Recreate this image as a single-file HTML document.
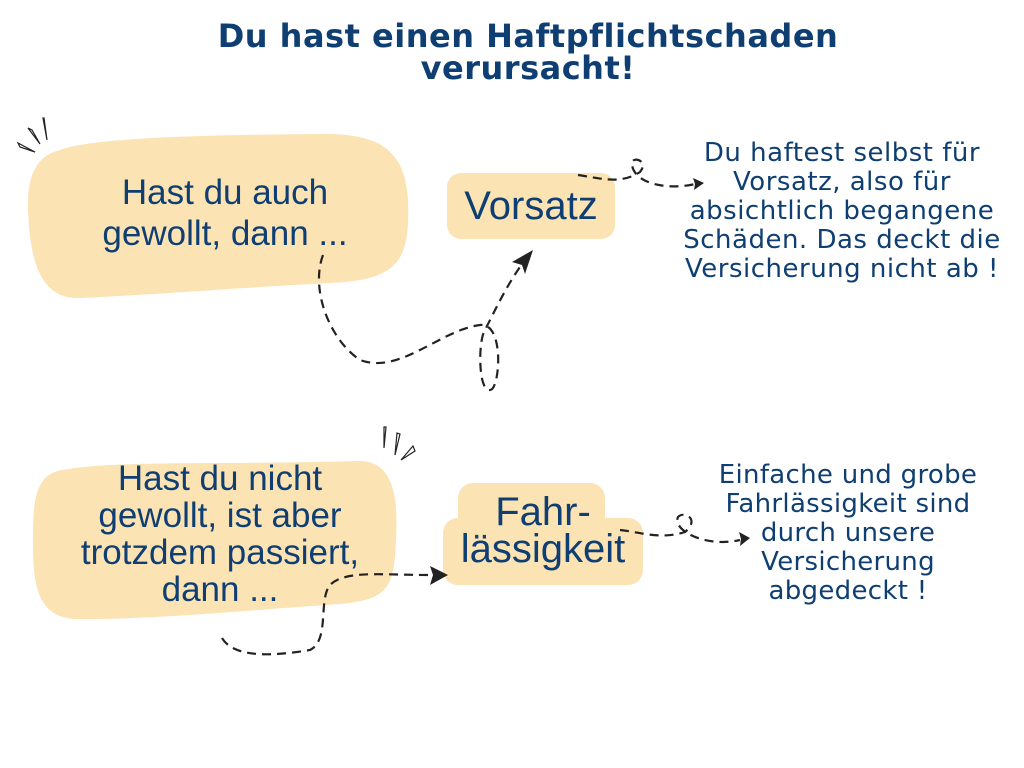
<!DOCTYPE html>
<html><head><meta charset="utf-8"><style>
body{margin:0;width:1024px;height:768px;background:#fff;position:relative;overflow:hidden;font-family:"Liberation Sans Narrow","Liberation Sans",sans-serif;color:#0f3f72}
.t{position:absolute;text-align:center;white-space:nowrap}
</style></head><body>
<svg width="1024" height="768" style="position:absolute;left:0;top:0">
<path d="M60,150 C90,138 200,135 320,134 C380,133 405,150 408,200 C410,260 400,280 330,283 C250,287 150,295 80,298 C40,300 30,260 28,210 C27,170 40,155 60,150Z" fill="#fbe3b4"/>
<rect x="447" y="173" width="168" height="66" rx="14" fill="#fbe3b4"/>
<path d="M62,470 C120,460 220,465 360,461 C395,462 398,500 396,540 C394,585 390,600 340,604 C250,610 150,620 75,619 C35,617 33,580 33,540 C33,500 35,475 62,470Z" fill="#fbe3b4"/>
<rect x="458" y="483" width="147" height="60" rx="15" fill="#fbe3b4"/>
<rect x="443" y="518" width="200" height="67" rx="15" fill="#fbe3b4"/>
<g fill="none" stroke="#222" stroke-width="2.2" stroke-dasharray="9,6">
<path d="M323,255 C310,290 330,340 360,360 C400,375 440,330 480,325 C505,322 500,390 490,390 C478,392 478,340 485,330 C500,300 510,280 525,260"/>
<path d="M578,175 C600,178 620,185 640,172 C650,160 630,155 632,165 C635,185 670,190 695,184"/>
<path d="M222,638 C235,660 280,655 310,650 C330,640 318,600 330,585 C345,570 380,575 430,575"/>
<path d="M620,530 C640,532 660,540 685,532 C700,520 685,510 678,517 C672,530 705,548 740,540"/>
</g>
<path d="M533,250 L512,262 L522,265 L525,274Z" fill="#222"/>
<path d="M448,575 L430,566 L433,575 L430,585Z" fill="#222"/>
<path d="M704,183 L693,178 L695,184 L694,190Z" fill="#222"/>
<path d="M750,538 L739,532 L741,539 L740,546Z" fill="#222"/>
<g fill="none" stroke="#222" stroke-width="1.2">
<path d="M18,143 L35,152 L20,147Z"/><path d="M28,128 L40,144 L32,130Z"/><path d="M44,118 L47,140 L43,118Z"/>
<path d="M384,427 L384,448 L386,427Z"/><path d="M397,433 L395,455 L400,434Z"/><path d="M413,446 L401,460 L415,451Z"/>
</g>
</svg>
<div class="t" style="left:0;width:1056px;top:20px;font-family:'DejaVu Sans',sans-serif;font-weight:bold;font-size:32px;line-height:32px;letter-spacing:0.5px">Du hast einen Haftpflichtschaden<br>verursacht!</div>
<div class="t" style="left:60px;width:330px;top:172px;font-size:35px;line-height:41px">Hast du auch<br>gewollt, dann ...</div>
<div class="t" style="left:447px;width:168px;top:184px;font-size:40px;line-height:44px">Vorsatz</div>
<div class="t" style="left:662px;width:360px;top:139px;font-family:'DejaVu Sans',sans-serif;font-size:26px;line-height:29px;letter-spacing:0.5px">Du haftest selbst für<br>Vorsatz, also für<br>absichtlich begangene<br>Schäden. Das deckt die<br>Versicherung nicht ab !</div>
<div class="t" style="left:40px;width:360px;top:460px;font-size:35px;line-height:37px">Hast du nicht<br>gewollt, ist aber<br>trotzdem passiert,<br>dann ...</div>
<div class="t" style="left:443px;width:200px;top:494px;font-size:40px;line-height:37px">Fahr-<br>lässigkeit</div>
<div class="t" style="left:670px;width:356px;top:461px;font-family:'DejaVu Sans',sans-serif;font-size:26px;line-height:29px;letter-spacing:0.3px">Einfache und grobe<br>Fahrlässigkeit sind<br>durch unsere<br>Versicherung<br>abgedeckt !</div>
</body></html>
